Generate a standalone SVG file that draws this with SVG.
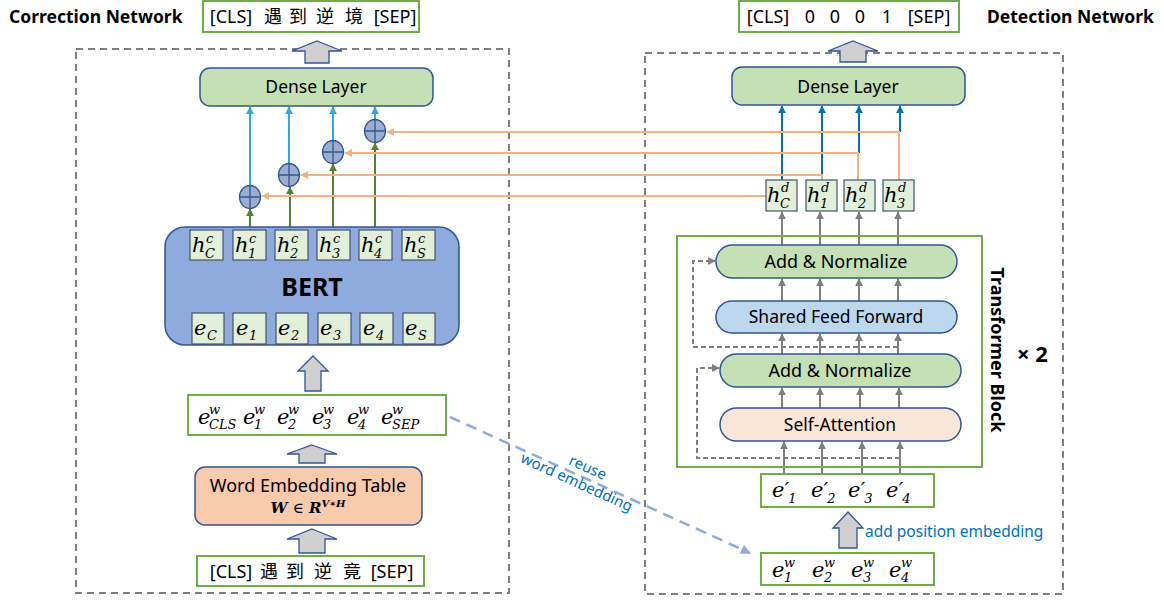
<svg xmlns="http://www.w3.org/2000/svg" width="1164" height="603" viewBox="0 0 1164 603">
  <style>
    .t { font-family: "Noto Sans", "Noto Sans CJK SC", sans-serif; fill: #000; }
    .b { font-weight: bold; }
    .m { font-family: "DejaVu Serif", serif; font-style: italic; fill: #000; }
    .out { fill: #fff; stroke: #70ad47; stroke-width: 2; }
    .frame { fill: none; stroke: #7f7f7f; stroke-width: 2; stroke-dasharray: 7 5; }
    .green { fill: #c5e0b4; stroke: #2f5597; stroke-width: 1.5; }
    .blue { fill: #bdd7ee; stroke: #2f5597; stroke-width: 1.5; }
    .peach { fill: #fbe5d6; stroke: #2f5597; stroke-width: 1.5; }
    .cell { fill: #e2f0d9; stroke: #44546a; stroke-width: 1.2; }
    .blk { fill: #d0cece; stroke: #2f5597; stroke-width: 1.3; }
    .plus { fill: #9dadcf; stroke: #2f5597; stroke-width: 1.3; }
    .lb { fill: none; stroke: #2aaae6; stroke-width: 2; marker-end: url(#aLb); }
    .db { fill: none; stroke: #0070c0; stroke-width: 2; marker-end: url(#aDb); }
    .gr { fill: none; stroke: #548235; stroke-width: 2; marker-end: url(#aGr); }
    .or { fill: none; stroke: #f4b183; stroke-width: 2; }
    .ora { marker-end: url(#aOr); }
    .gy { fill: none; stroke: #7f7f7f; stroke-width: 2; marker-end: url(#aGy); }
    .gyd { fill: none; stroke: #7f7f7f; stroke-width: 2; stroke-dasharray: 5 3; marker-end: url(#aGy); }
    .bd { fill: none; stroke: #8faadc; stroke-width: 2.5; stroke-dasharray: 11 7; marker-end: url(#aBd); }
    .note { font-family: "Noto Sans", sans-serif; fill: #0070c0; }
  </style>
  <defs>
    <marker id="aLb" viewBox="0 0 10 10" refX="9" refY="5" markerWidth="8" markerHeight="8" markerUnits="userSpaceOnUse" orient="auto"><path d="M0,0 L10,5 L0,10 z" fill="#2aaae6"/></marker>
    <marker id="aDb" viewBox="0 0 10 10" refX="9" refY="5" markerWidth="8" markerHeight="8" markerUnits="userSpaceOnUse" orient="auto"><path d="M0,0 L10,5 L0,10 z" fill="#0070c0"/></marker>
    <marker id="aGr" viewBox="0 0 10 10" refX="9" refY="5" markerWidth="8" markerHeight="8" markerUnits="userSpaceOnUse" orient="auto"><path d="M0,0 L10,5 L0,10 z" fill="#548235"/></marker>
    <marker id="aOr" viewBox="0 0 10 10" refX="9" refY="5" markerWidth="8" markerHeight="8" markerUnits="userSpaceOnUse" orient="auto"><path d="M0,0 L10,5 L0,10 z" fill="#f4b183"/></marker>
    <marker id="aGy" viewBox="0 0 10 10" refX="9" refY="5" markerWidth="8" markerHeight="8" markerUnits="userSpaceOnUse" orient="auto"><path d="M0,0 L10,5 L0,10 z" fill="#7f7f7f"/></marker>
    <marker id="aBd" viewBox="0 0 10 10" refX="9" refY="5" markerWidth="10" markerHeight="10" markerUnits="userSpaceOnUse" orient="auto"><path d="M0,0 L10,5 L0,10 z" fill="#8faadc"/></marker>
  </defs>

  <rect width="1164" height="603" fill="#fff"/>

  <!-- network frames and titles -->
  <rect class="frame" x="76" y="49" width="433" height="544"/>
  <rect class="frame" x="645" y="53" width="418" height="541"/>
  <text class="t b" x="9" y="23" font-size="17.5">Correction Network</text>
  <text class="t b" x="987" y="23" font-size="17.5">Detection Network</text>

  <!-- connectors -->
  <g id="connectors">
    <!-- correction: BERT outputs to fusion nodes -->
    <path class="gr" d="M250,230 V209"/>
    <path class="gr" d="M290,230 V187"/>
    <path class="gr" d="M333,230 V164"/>
    <path class="gr" d="M375,230 V143"/>
    <!-- fusion nodes to dense layer -->
    <path class="lb" d="M250,186 V107"/>
    <path class="lb" d="M289,164 V107"/>
    <path class="lb" d="M333,141 V107"/>
    <path class="lb" d="M375,120 V107"/>
    <!-- detection outputs to dense layer -->
    <path class="db" d="M782,180 V106"/>
    <path class="db" d="M822,175 V106"/>
    <path class="db" d="M859,153 V106"/>
    <path class="db" d="M900,132 V106"/>
    <!-- detection outputs fed into the fusion nodes -->
    <path class="or ora" d="M899,180 V132 H387"/>
    <path class="or ora" d="M858,180 V153 H345"/>
    <path class="or ora" d="M822,180 V175 H301"/>
    <path class="or ora" d="M766,196 H262"/>
    <!-- transformer stack -->
    <path class="gy" d="M782,245 V212"/>
    <path class="gy" d="M820,245 V212"/>
    <path class="gy" d="M859,245 V212"/>
    <path class="gy" d="M898,245 V212"/>
    <path class="gy" d="M782,301 V279"/>
    <path class="gy" d="M820,301 V279"/>
    <path class="gy" d="M859,301 V279"/>
    <path class="gy" d="M898,301 V279"/>
    <path class="gy" d="M782,354 V334"/>
    <path class="gy" d="M820,354 V334"/>
    <path class="gy" d="M859,354 V334"/>
    <path class="gy" d="M898,354 V334"/>
    <path class="gy" d="M782,408 V388"/>
    <path class="gy" d="M820,408 V388"/>
    <path class="gy" d="M860,408 V388"/>
    <path class="gy" d="M899,408 V388"/>
    <path class="gy" d="M784,474 V442"/>
    <path class="gy" d="M822,474 V442"/>
    <path class="gy" d="M862,474 V442"/>
    <path class="gy" d="M900,474 V442"/>
    <!-- residual shortcuts -->
    <path class="gyd" d="M900,458 H697 V368 H719"/>
    <path class="gyd" d="M898,347 H693 V261 H715"/>
    <!-- shared word embedding -->
    <path class="bd" d="M450,417 L750,553"/>
  </g>

  <!-- correction network -->
  <g id="out-correction">
    <rect class="out" x="203" y="1" width="216" height="31"/>
    <text class="t" y="23" font-size="18" text-anchor="middle"><tspan x="231">[CLS]</tspan><tspan x="273">遇</tspan><tspan x="298">到</tspan><tspan x="325">逆</tspan><tspan x="354">境</tspan><tspan x="395">[SEP]</tspan></text>
    <path class="blk" d="M317,41 L342,51 L329,51 L329,63 L305,63 L305,51 L292,51 Z"/>
  </g>

  <g id="dense-correction">
    <rect class="green" x="200" y="68" width="233" height="38" rx="10"/>
    <text class="t" x="316" y="93" font-size="17.5" text-anchor="middle">Dense Layer</text>
  </g>

  <g id="fusion">
    <g class="plus">
      <ellipse cx="250" cy="197" rx="10.5" ry="11.5"/>
      <ellipse cx="289" cy="175" rx="10.5" ry="11.5"/>
      <ellipse cx="333" cy="152" rx="10.5" ry="11.5"/>
      <ellipse cx="375" cy="131" rx="10.5" ry="11.5"/>
    </g>
    <path d="M239.5,197 H260.5 M250,185.5 V208.5 M278.5,175 H299.5 M289,163.5 V186.5 M322.5,152 H343.5 M333,140.5 V163.5 M364.5,131 H385.5 M375,119.5 V142.5" stroke="#2f5597" stroke-width="1.3" fill="none"/>
  </g>

  <g id="bert">
    <rect x="165" y="227" width="294" height="118" rx="20" fill="#8faadc" stroke="#2f5597" stroke-width="1.5"/>
    <text class="t b" x="312" y="296" font-size="25" text-anchor="middle">BERT</text>
    <!-- hidden states -->
    <rect class="cell" x="190" y="230" width="33" height="30"/>
    <rect class="cell" x="233" y="230" width="33" height="30"/>
    <rect class="cell" x="275" y="230" width="33" height="30"/>
    <rect class="cell" x="317" y="230" width="33" height="30"/>
    <rect class="cell" x="359" y="230" width="33" height="30"/>
    <rect class="cell" x="402" y="230" width="33" height="30"/>
    <g class="m" font-size="21">
      <text x="192" y="252">h</text><text x="235" y="252">h</text><text x="277" y="252">h</text>
      <text x="319" y="252">h</text><text x="361" y="252">h</text><text x="404" y="252">h</text>
    </g>
    <g class="m" font-size="13">
      <text x="206" y="243">c</text><text x="249" y="243">c</text><text x="291" y="243">c</text>
      <text x="333" y="243">c</text><text x="375" y="243">c</text><text x="418" y="243">c</text>
      <text x="205" y="258">C</text><text x="248" y="258">1</text><text x="290" y="258">2</text>
      <text x="332" y="258">3</text><text x="374" y="258">4</text><text x="417" y="258">S</text>
    </g>
    <!-- input embeddings -->
    <rect class="cell" x="192" y="313" width="32" height="31"/>
    <rect class="cell" x="233" y="313" width="33" height="31"/>
    <rect class="cell" x="276" y="313" width="32" height="31"/>
    <rect class="cell" x="318" y="313" width="33" height="31"/>
    <rect class="cell" x="360" y="313" width="33" height="31"/>
    <rect class="cell" x="403" y="313" width="32" height="31"/>
    <g class="m" font-size="21">
      <text x="194" y="335">e</text><text x="236" y="335">e</text><text x="278" y="335">e</text>
      <text x="320" y="335">e</text><text x="363" y="335">e</text><text x="405" y="335">e</text>
    </g>
    <g class="m" font-size="13">
      <text x="207" y="340">C</text><text x="249" y="340">1</text><text x="291" y="340">2</text>
      <text x="333" y="340">3</text><text x="376" y="340">4</text><text x="418" y="340">S</text>
    </g>
    <path class="blk" d="M313,356 L328,371 L321,371 L321,391 L305,391 L305,371 L298,371 Z"/>
  </g>

  <g id="word-vectors">
    <rect class="out" x="188" y="395" width="258" height="40"/>
    <g class="m" font-size="21">
      <text x="198" y="424">e</text><text x="243" y="424">e</text><text x="277" y="424">e</text>
      <text x="312" y="424">e</text><text x="347" y="424">e</text><text x="381" y="424">e</text>
    </g>
    <g class="m" font-size="13">
      <text x="209" y="414">w</text><text x="254" y="414">w</text><text x="288" y="414">w</text>
      <text x="323" y="414">w</text><text x="358" y="414">w</text><text x="392" y="414">w</text>
      <text x="209" y="429">CLS</text><text x="254" y="429">1</text><text x="288" y="429">2</text>
      <text x="323" y="429">3</text><text x="358" y="429">4</text><text x="392" y="429">SEP</text>
    </g>
    <path class="blk" d="M312,445 L337,454 L325,454 L325,463 L299,463 L299,454 L287,454 Z"/>
  </g>

  <g id="embedding-table">
    <rect x="195" y="467" width="227" height="58" rx="10" fill="#f8cbad" stroke="#2f5597" stroke-width="1.5"/>
    <text class="t" x="308" y="492" font-size="18" text-anchor="middle">Word Embedding Table</text>
    <text x="308" y="513" font-family="DejaVu Serif, serif" font-weight="bold" font-style="italic" font-size="15" text-anchor="middle">W <tspan font-style="normal" font-weight="normal">∈</tspan> R<tspan dy="-6" font-size="10">V∗H</tspan></text>
    <path class="blk" d="M312,529 L337,539 L325,539 L325,553 L299,553 L299,539 L287,539 Z"/>
  </g>

  <g id="input-correction">
    <rect class="out" x="197" y="556" width="227" height="30"/>
    <text class="t" y="578" font-size="18" text-anchor="middle"><tspan x="231">[CLS]</tspan><tspan x="269">遇</tspan><tspan x="295">到</tspan><tspan x="323">逆</tspan><tspan x="352">竟</tspan><tspan x="392">[SEP]</tspan></text>
  </g>

  <g id="reuse-label" transform="rotate(24.4 580 475)">
    <text class="note" x="584" y="470" font-size="15" text-anchor="middle">reuse</text>
    <text class="note" x="580" y="488" font-size="15" text-anchor="middle">word embedding</text>
  </g>

  <!-- detection network -->
  <g id="out-detection">
    <rect class="out" x="739" y="1" width="220" height="31"/>
    <text class="t" y="23" font-size="18" text-anchor="middle"><tspan x="768">[CLS]</tspan><tspan x="810">0</tspan><tspan x="835">0</tspan><tspan x="860">0</tspan><tspan x="887">1</tspan><tspan x="929">[SEP]</tspan></text>
    <path class="blk" d="M853,41 L878,51 L866,51 L866,62 L840,62 L840,51 L828,51 Z"/>
  </g>

  <g id="dense-detection">
    <rect class="green" x="732" y="67" width="233" height="38" rx="10"/>
    <text class="t" x="848" y="93" font-size="17.5" text-anchor="middle">Dense Layer</text>
  </g>

  <g id="detection-states">
    <rect class="cell" x="766" y="180" width="31" height="31" stroke="#2f5597"/>
    <rect class="cell" x="806" y="180" width="31" height="31" stroke="#2f5597"/>
    <rect class="cell" x="844" y="180" width="31" height="31" stroke="#2f5597"/>
    <rect class="cell" x="883" y="180" width="31" height="31" stroke="#2f5597"/>
    <g class="m" font-size="21">
      <text x="767" y="202">h</text><text x="807" y="202">h</text><text x="845" y="202">h</text><text x="884" y="202">h</text>
    </g>
    <g class="m" font-size="13">
      <text x="781" y="192">d</text><text x="821" y="192">d</text><text x="859" y="192">d</text><text x="898" y="192">d</text>
      <text x="780" y="208">C</text><text x="820" y="208">1</text><text x="858" y="208">2</text><text x="897" y="208">3</text>
    </g>
  </g>

  <g id="transformer-block">
    <rect x="677" y="236" width="305" height="231" fill="none" stroke="#70ad47" stroke-width="2"/>
    <rect class="green" x="716" y="245" width="241" height="33" rx="16.5"/>
    <text class="t" x="836" y="268" font-size="18" text-anchor="middle">Add &amp; Normalize</text>
    <rect class="blue" x="716" y="301" width="241" height="32" rx="16"/>
    <text class="t" x="836" y="323" font-size="17.5" text-anchor="middle">Shared Feed Forward</text>
    <rect class="green" x="720" y="354" width="241" height="33" rx="16.5"/>
    <text class="t" x="840" y="377" font-size="18" text-anchor="middle">Add &amp; Normalize</text>
    <rect class="peach" x="720" y="408" width="241" height="33" rx="16.5"/>
    <text class="t" x="840" y="431" font-size="17.5" text-anchor="middle">Self-Attention</text>
    <text class="t b" font-size="18" text-anchor="middle" transform="translate(991 350) rotate(90)">Transformer Block</text>
    <text class="t b" x="1017" y="362" font-size="22">× 2</text>
  </g>

  <g id="position-vectors">
    <rect class="out" x="761" y="474" width="173" height="33"/>
    <!-- primed embeddings: index follows the prime -->
    <g class="m" font-size="21">
      <text x="772" y="497">e′<tspan font-size="13" dx="-1" dy="6">1</tspan></text>
      <text x="811" y="497">e′<tspan font-size="13" dx="-1" dy="6">2</tspan></text>
      <text x="848" y="497">e′<tspan font-size="13" dx="-1" dy="6">3</tspan></text>
      <text x="886" y="497">e′<tspan font-size="13" dx="-1" dy="6">4</tspan></text>
    </g>
    <path class="blk" d="M848,512 L863,528 L857,528 L857,548 L839,548 L839,528 L833,528 Z"/>
    <text class="note" x="865" y="537" font-size="15.5">add position embedding</text>
  </g>

  <g id="word-vectors-detection">
    <rect class="out" x="761" y="553" width="173" height="32"/>
    <g class="m" font-size="21">
      <text x="772" y="577">e</text><text x="812" y="577">e</text><text x="851" y="577">e</text><text x="889" y="577">e</text>
    </g>
    <g class="m" font-size="13">
      <text x="784" y="567">w</text><text x="824" y="567">w</text><text x="863" y="567">w</text><text x="901" y="567">w</text>
      <text x="784" y="582">1</text><text x="824" y="582">2</text><text x="863" y="582">3</text><text x="901" y="582">4</text>
    </g>
  </g>
</svg>
